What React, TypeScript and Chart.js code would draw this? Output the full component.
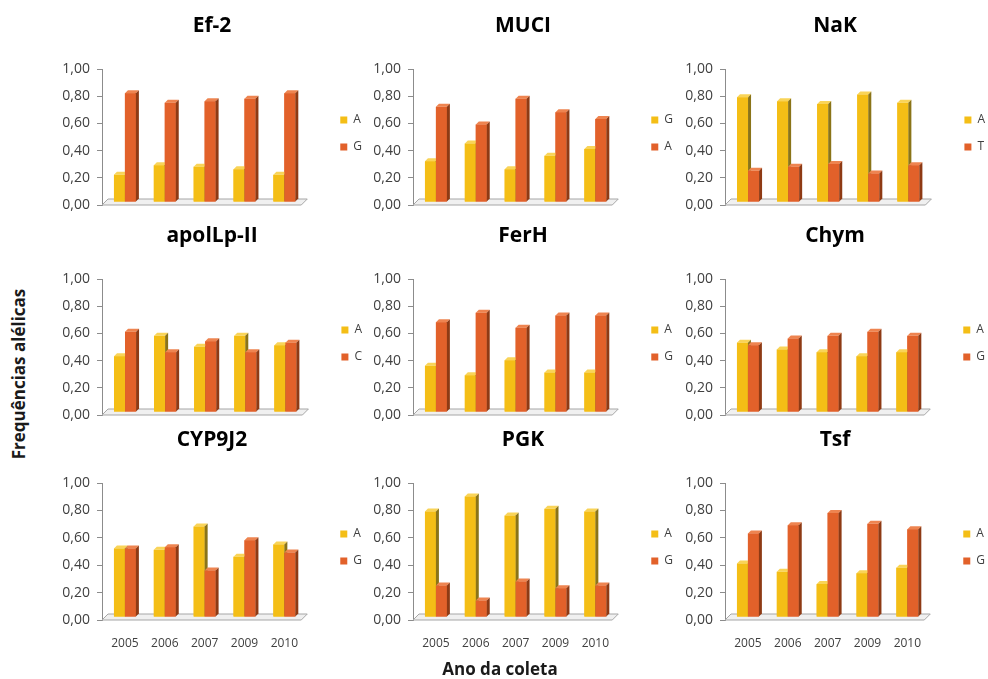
import React, { useEffect, useRef } from 'react';
import { Chart, registerables } from 'chart.js';

Chart.register(...registerables);

// ---------- data ----------
const YEARS = ['2005', '2006', '2007', '2009', '2010'];
const Y_TICK_LABELS = ['0,00', '0,20', '0,40', '0,60', '0,80', '1,00'];

const EF2_A = [0.20, 0.27, 0.26, 0.24, 0.20];
const EF2_G = [0.80, 0.73, 0.74, 0.76, 0.80];

const MUCI_G = [0.30, 0.43, 0.24, 0.34, 0.39];
const MUCI_A = [0.70, 0.57, 0.76, 0.66, 0.61];

const NAK_A = [0.77, 0.74, 0.72, 0.79, 0.73];
const NAK_T = [0.23, 0.26, 0.28, 0.21, 0.27];

const APOLLP_A = [0.41, 0.56, 0.48, 0.56, 0.49];
const APOLLP_C = [0.59, 0.44, 0.52, 0.44, 0.51];

const FERH_A = [0.34, 0.27, 0.38, 0.29, 0.29];
const FERH_G = [0.66, 0.73, 0.62, 0.71, 0.71];

const CHYM_A = [0.51, 0.46, 0.44, 0.41, 0.44];
const CHYM_G = [0.49, 0.54, 0.56, 0.59, 0.56];

const CYP9J2_A = [0.50, 0.49, 0.66, 0.44, 0.53];
const CYP9J2_G = [0.50, 0.51, 0.34, 0.56, 0.47];

const PGK_A = [0.77, 0.88, 0.74, 0.79, 0.77];
const PGK_G = [0.23, 0.12, 0.26, 0.21, 0.23];

const TSF_A = [0.39, 0.33, 0.24, 0.32, 0.36];
const TSF_G = [0.61, 0.67, 0.76, 0.68, 0.64];

const PANELS = [
  { title: 'Ef-2', alleles: ['A', 'G'], series: [EF2_A, EF2_G] },
  { title: 'MUCI', alleles: ['G', 'A'], series: [MUCI_G, MUCI_A] },
  { title: 'NaK', alleles: ['A', 'T'], series: [NAK_A, NAK_T] },
  { title: 'apolLp-II', alleles: ['A', 'C'], series: [APOLLP_A, APOLLP_C] },
  { title: 'FerH', alleles: ['A', 'G'], series: [FERH_A, FERH_G] },
  { title: 'Chym', alleles: ['A', 'G'], series: [CHYM_A, CHYM_G] },
  { title: 'CYP9J2', alleles: ['A', 'G'], series: [CYP9J2_A, CYP9J2_G] },
  { title: 'PGK', alleles: ['A', 'G'], series: [PGK_A, PGK_G] },
  { title: 'Tsf', alleles: ['A', 'G'], series: [TSF_A, TSF_G] },
];

// ---------- style ----------
const SERIES_STYLE = [
  { front: '#F4BE16', top: '#F9D458', side: '#8A7418' },
  { front: '#E2612A', top: '#EE8450', side: '#8E3A14' },
];
const DEPTH = 3;
const AREA_LEFT = [102, 413, 725];
const AREA_TOP = [69, 279, 483];
const FONT = 'Open Sans';
const TEXT_GREY = '#404040';

const bar3d = {
  id: 'bar3d',
  beforeDatasetsDraw(chart: any) {
    const { ctx, chartArea: a } = chart;
    ctx.save();
    ctx.beginPath();
    ctx.moveTo(a.left, a.bottom);
    ctx.lineTo(a.left + 2 * DEPTH, a.bottom - 2 * DEPTH);
    ctx.lineTo(a.right + 2 * DEPTH, a.bottom - 2 * DEPTH);
    ctx.lineTo(a.right, a.bottom);
    ctx.closePath();
    ctx.fillStyle = '#F0F0F0';
    ctx.fill();
    ctx.strokeStyle = '#A6A6A6';
    ctx.lineWidth = 1;
    ctx.stroke();
    ctx.restore();
    ctx.save();
    ctx.translate(DEPTH, -DEPTH);
  },
  afterDatasetsDraw(chart: any) {
    const { ctx } = chart;
    const n = chart.data.labels.length;
    const metas = chart.data.datasets.map((_: any, i: number) => chart.getDatasetMeta(i));
    for (let j = 0; j < n; j++) {
      metas.forEach((meta: any, d: number) => {
        const el = meta.data[j];
        if (!el) return;
        const st = SERIES_STYLE[d];
        const { x, y, base, width } = el.getProps(['x', 'y', 'base', 'width'], true);
        const l = x - width / 2;
        const r = x + width / 2;
        ctx.fillStyle = st.front;
        ctx.fillRect(l, y, width, base - y);
        ctx.fillStyle = st.top;
        ctx.beginPath();
        ctx.moveTo(l, y);
        ctx.lineTo(l + DEPTH, y - DEPTH);
        ctx.lineTo(r + DEPTH, y - DEPTH);
        ctx.lineTo(r, y);
        ctx.closePath();
        ctx.fill();
        ctx.fillStyle = st.side;
        ctx.beginPath();
        ctx.moveTo(r, y);
        ctx.lineTo(r + DEPTH, y - DEPTH);
        ctx.lineTo(r + DEPTH, base - DEPTH);
        ctx.lineTo(r, base);
        ctx.closePath();
        ctx.fill();
      });
    }
    ctx.restore();
  },
};

function Panel({ panel, col, row }: { panel: any; col: number; row: number }) {
  const ref = useRef<HTMLCanvasElement>(null);
  const showX = row === 2;
  const width = 320;
  const height = showX ? 234 : 220;
  const left = AREA_LEFT[col] - 50;
  const top = AREA_TOP[row] - 62;

  useEffect(() => {
    if (!ref.current) return;
    const chart = new Chart(ref.current, {
      type: 'bar',
      data: {
        labels: YEARS,
        datasets: panel.series.map((vals: number[], d: number) => ({
          label: panel.alleles[d],
          data: vals,
          backgroundColor: SERIES_STYLE[d].front,
          borderWidth: 0,
          categoryPercentage: 0.55,
          barPercentage: 1.0,
        })),
      },
      options: {
        responsive: false,
        animation: false,
        events: [],
        layout: { padding: { left: 0, right: 0, top: 0, bottom: showX ? 5 : 22 } },
        plugins: {
          title: {
            display: true,
            text: panel.title,
            color: '#000',
            font: { family: FONT, size: 21, weight: 'bold' },
            padding: { top: 6.3, bottom: 30.5 },
          },
          legend: {
            position: 'right',
            align: 'start',
            fullSize: false,
            title: { display: true, text: ' ', font: { family: FONT, size: 10 }, padding: 9 },
            labels: {
              boxWidth: 7,
              boxHeight: 7,
              padding: 15,
              color: TEXT_GREY,
              font: { family: FONT, size: 12 },
            },
          },
          tooltip: { enabled: false },
        },
        scales: {
          x: {
            type: 'category',
            grid: { display: false, drawTicks: false },
            border: { display: false },
            ticks: {
              display: showX,
              padding: 16,
              labelOffset: DEPTH,
              color: TEXT_GREY,
              font: { family: FONT, size: 12 },
              maxRotation: 0,
              autoSkip: false,
            },
            afterFit: (s: any) => {
              s.height = showX ? 30 : 0;
            },
          },
          y: {
            min: 0,
            max: 1,
            ticks: {
              stepSize: 0.2,
              padding: 7,
              color: TEXT_GREY,
              font: { family: FONT, size: 14 },
              callback: (v: any) => Y_TICK_LABELS[Math.round(Number(v) * 5)],
            },
            grid: {
              display: true,
              drawOnChartArea: false,
              drawTicks: true,
              tickLength: 5,
              color: '#8C8C8C',
            },
            border: { display: true, color: '#8C8C8C' },
            afterFit: (s: any) => {
              s.width = 50;
            },
          },
          y2: {
            type: 'linear',
            position: 'right',
            display: true,
            grid: { display: false },
            ticks: { display: false },
            border: { display: false },
            afterFit: (s: any) => {
              s.width = 24;
            },
          },
        },
      },
      plugins: [bar3d],
    } as any);
    return () => chart.destroy();
  }, []);

  return (
    <canvas
      ref={ref}
      width={width}
      height={height}
      style={{ position: 'absolute', left, top, width, height }}
    />
  );
}

export default function App() {
  return (
    <div
      style={{
        position: 'absolute',
        left: 0,
        top: 0,
        width: 988,
        height: 679,
        background: '#ffffff',
        fontFamily: FONT,
        overflow: 'hidden',
      }}
    >
      {PANELS.map((p, i) => (
        <Panel key={i} panel={p} col={i % 3} row={Math.floor(i / 3)} />
      ))}
      <div
        style={{
          position: 'absolute',
          left: 18,
          top: 374,
          transform: 'translate(-50%, -50%) rotate(-90deg)',
          whiteSpace: 'nowrap',
          fontWeight: 700,
          fontSize: 17,
          color: '#1a1a1a',
          lineHeight: 1,
        }}
      >
        Frequências alélicas
      </div>
      <div
        style={{
          position: 'absolute',
          left: 500,
          top: 668,
          transform: 'translate(-50%, -50%)',
          whiteSpace: 'nowrap',
          fontWeight: 700,
          fontSize: 17,
          color: '#1a1a1a',
          lineHeight: 1,
        }}
      >
        Ano da coleta
      </div>
    </div>
  );
}
